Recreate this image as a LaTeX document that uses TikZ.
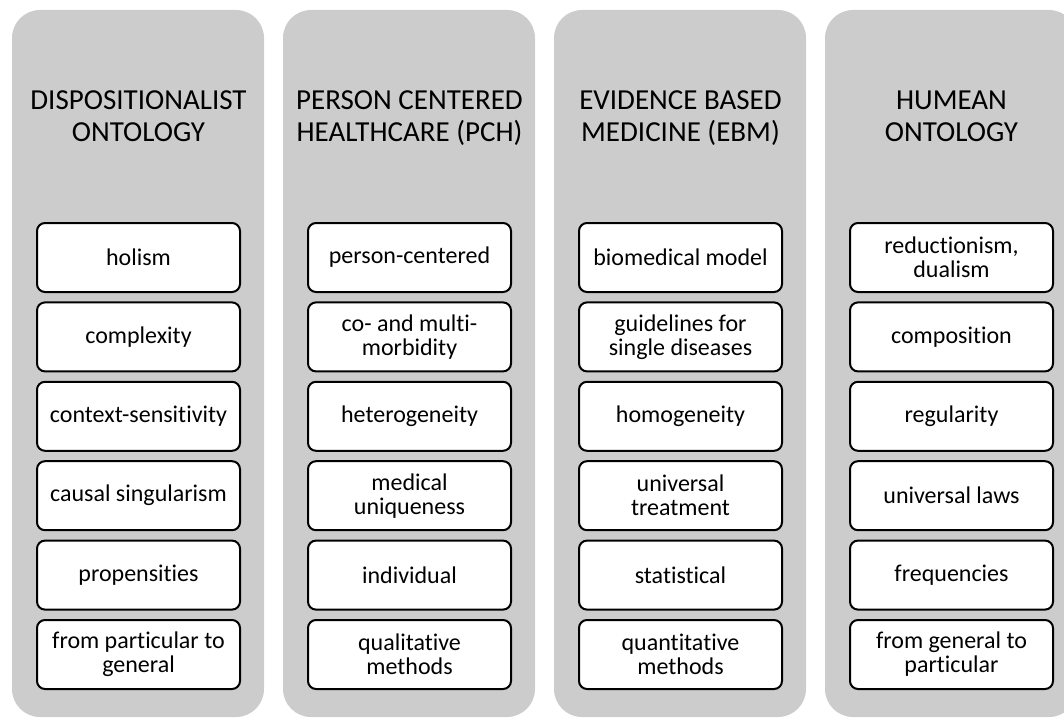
\documentclass[tikz,border=0pt]{standalone}
\usepackage{fontspec}
\setmainfont{Carlito}[Ligatures=NoCommon]
\definecolor{colgray}{RGB}{204,204,204}

\begin{document}
\begin{tikzpicture}[x=1pt,y=-1pt,
    column/.style={fill=colgray,rounded corners=28pt},
    heading/.style={align=center,anchor=base,font=\fontsize{29}{32}\selectfont},
    item/.style={draw=black,fill=white,line width=2pt,rounded corners=8pt,
      minimum width=203pt,minimum height=69pt,inner sep=2pt,align=center,
      font=\fontsize{24}{24}\selectfont}]
    \useasboundingbox (0,0) rectangle (1064,717);
    \clip (0,0) rectangle (1064,717);

    % the four columns
    \fill[column] (12,10) rectangle (264,717);
    \fill[column] (283,10) rectangle (535,717);
    \fill[column] (554,10) rectangle (806,717);
    \fill[column] (825,10) rectangle (1077,717);

    \node[heading] (dispo) at (138.5,141) {DISPOSITIONALIST\\ONTOLOGY};
    \node[heading] (pch) at (409.5,141) {PERSON CENTERED\\HEALTHCARE (PCH)};
    \node[heading] (ebm) at (680.5,141) {EVIDENCE BASED\\MEDICINE (EBM)};
    \node[heading] (humean) at (951.5,141) {HUMEAN\\ONTOLOGY};

    % dispositionalist ontology
    \node[item] (dispo1) at (138.5,257.5) {holism};
    \node[item] (dispo2) at (138.5,336.9) {complexity};
    \node[item] (dispo3) at (138.5,416.3) {context-sensitivity};
    \node[item] (dispo4) at (138.5,495.7) {causal singularism};
    \node[item] (dispo5) at (138.5,575.1) {propensities};
    \node[item] (dispo6) at (138.5,654.5) {from particular to\\general};

    % person centered healthcare
    \node[item] (pch1) at (409.5,257.5) {person-centered};
    \node[item] (pch2) at (409.5,336.9) {co- and multi-\\morbidity};
    \node[item] (pch3) at (409.5,416.3) {heterogeneity};
    \node[item] (pch4) at (409.5,495.7) {medical\\uniqueness};
    \node[item] (pch5) at (409.5,575.1) {individual};
    \node[item] (pch6) at (409.5,654.5) {qualitative\\methods};

    % evidence based medicine
    \node[item] (ebm1) at (680.5,257.5) {biomedical model};
    \node[item] (ebm2) at (680.5,336.9) {guidelines for\\single diseases};
    \node[item] (ebm3) at (680.5,416.3) {homogeneity};
    \node[item] (ebm4) at (680.5,495.7) {universal\\treatment};
    \node[item] (ebm5) at (680.5,575.1) {statistical};
    \node[item] (ebm6) at (680.5,654.5) {quantitative\\methods};

    % humean ontology
    \node[item] (hum1) at (951.5,257.5) {reductionism,\\dualism};
    \node[item] (hum2) at (951.5,336.9) {composition};
    \node[item] (hum3) at (951.5,416.3) {regularity};
    \node[item] (hum4) at (951.5,495.7) {universal laws};
    \node[item] (hum5) at (951.5,575.1) {frequencies};
    \node[item] (hum6) at (951.5,654.5) {from general to\\particular};
  \end{tikzpicture}
\end{document}
